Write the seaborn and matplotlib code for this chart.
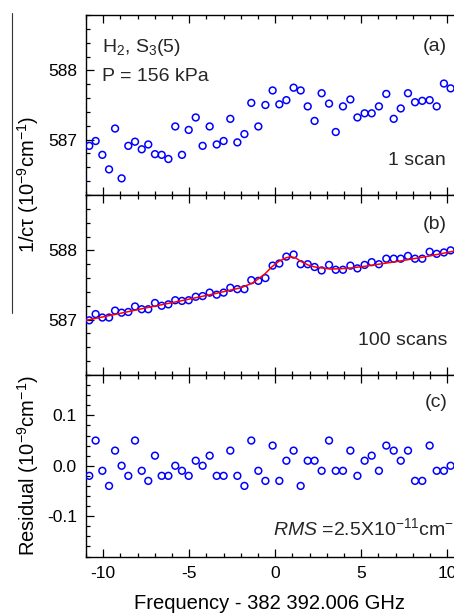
import matplotlib
matplotlib.use("Agg")
import matplotlib.pyplot as plt
from matplotlib.ticker import MultipleLocator
from matplotlib.lines import Line2D
import pandas as pd
import seaborn as sns

# ---------------- data ----------------
freq = [-10.81, -10.44, -10.05, -9.66, -9.31, -8.93, -8.54, -8.15, -7.76, -7.38,
        -6.99, -6.60, -6.21, -5.81, -5.42, -5.03, -4.62, -4.22, -3.81, -3.40,
        -3.00, -2.61, -2.20, -1.79, -1.39, -0.98, -0.57, -0.15, 0.24, 0.65,
        1.07, 1.48, 1.89, 2.29, 2.70, 3.13, 3.52, 3.94, 4.37, 4.78,
        5.20, 5.61, 6.03, 6.46, 6.89, 7.30, 7.72, 8.13, 8.55, 8.98,
        9.39, 9.81, 10.20]

one_scan = [586.91, 586.98, 586.78, 586.57, 587.16, 586.44, 586.91, 586.97, 586.86, 586.93,
            586.79, 586.78, 586.72, 587.19, 586.78, 587.14, 587.32, 586.91, 587.19, 586.93,
            586.98, 587.30, 586.96, 587.08, 587.53, 587.19, 587.50, 587.71, 587.51, 587.57,
            587.75, 587.71, 587.48, 587.27, 587.67, 587.52, 587.11, 587.48, 587.58, 587.32,
            587.38, 587.38, 587.48, 587.66, 587.30, 587.45, 587.67, 587.54, 587.56, 587.57,
            587.48, 587.81, 587.74]
# one extra point of the single scan just left of the plotted range
edge_freq = [-11.21]
edge_one_scan = [586.40]

hundred_scans = [586.99, 587.08, 587.03, 587.03, 587.13, 587.10, 587.11, 587.19, 587.15, 587.15,
                 587.24, 587.20, 587.22, 587.28, 587.27, 587.28, 587.33, 587.34, 587.39, 587.36,
                 587.39, 587.46, 587.44, 587.44, 587.57, 587.56, 587.60, 587.78, 587.81, 587.91,
                 587.94, 587.80, 587.80, 587.76, 587.71, 587.79, 587.72, 587.72, 587.78, 587.74,
                 587.79, 587.83, 587.80, 587.88, 587.88, 587.88, 587.92, 587.88, 587.88, 587.98,
                 587.95, 587.97, 588.00]

fit_freq = [-11.0, -9.4, -7.5, -5.5, -3.6, -2.0, -1.3, -0.6, -0.2, 0.2, 0.6, 0.9,
            1.2, 1.5, 1.9, 2.3, 3.2, 4.2, 5.2, 7.1, 9.0, 11.0]
fit_vals = [586.99, 587.07, 587.17, 587.27, 587.37, 587.46, 587.53, 587.66, 587.76, 587.84,
            587.89, 587.91, 587.89, 587.84, 587.79, 587.76, 587.73, 587.74, 587.77, 587.84,
            587.92, 588.02]

residual = [-0.02, 0.05, -0.01, -0.04, 0.03, 0.00, -0.02, 0.05, -0.01, -0.03,
            0.02, -0.02, -0.02, 0.00, -0.01, -0.02, 0.01, 0.00, 0.02, -0.02,
            -0.02, 0.03, -0.02, -0.04, 0.05, -0.01, -0.03, 0.04, -0.03, 0.01,
            0.03, -0.04, 0.01, 0.01, -0.01, 0.05, -0.01, -0.01, 0.03, -0.02,
            0.01, 0.02, -0.01, 0.04, 0.03, 0.01, 0.03, -0.03, -0.03, 0.04,
            -0.01, -0.01, 0.00]

xticks = [-10, -5, 0, 5, 10]
yticks_ab = [587, 588]
yticks_c = [-0.1, 0.0, 0.1]

# ---------------- style ----------------
sns.set_theme(style="ticks")
plt.rcParams["font.family"] = ["Liberation Sans", "DejaVu Sans"]
plt.rcParams["mathtext.fontset"] = "custom"
plt.rcParams["mathtext.rm"] = "Liberation Sans"
plt.rcParams["mathtext.it"] = "Liberation Sans:italic"
plt.rcParams["mathtext.default"] = "regular"
plt.rcParams["axes.unicode_minus"] = False

BLUE = "#0000ff"
RED = "#ff0000"

W_PX, H_PX = 454, 613
fig = plt.figure(figsize=(W_PX / 100, H_PX / 100), dpi=100)
L = 86 / W_PX
WID = 378.4 / W_PX


def pos(top, bottom):
    return [L, (H_PX - bottom) / H_PX, WID, (bottom - top) / H_PX]


axa = fig.add_axes(pos(15, 195))
axb = fig.add_axes(pos(195, 375))
axc = fig.add_axes(pos(375, 556.5))

df_a = pd.DataFrame({"f": edge_freq + freq, "v": edge_one_scan + one_scan})
df_b = pd.DataFrame({"f": freq, "v": hundred_scans})
df_fit = pd.DataFrame({"f": fit_freq, "v": fit_vals})
df_c = pd.DataFrame({"f": freq, "v": residual})

sc_kw = dict(marker="o", s=24, facecolor="none", edgecolor=BLUE, linewidth=1.1, zorder=3)
sns.scatterplot(data=df_a, x="f", y="v", ax=axa, **sc_kw)
sns.scatterplot(data=df_b, x="f", y="v", ax=axb, **sc_kw)
sns.lineplot(data=df_fit, x="f", y="v", ax=axb, color=RED, linewidth=1.1, zorder=4)
sns.scatterplot(data=df_c, x="f", y="v", ax=axc, **sc_kw)

for ax in (axa, axb, axc):
    ax.set_xlim(-11, 11)
    ax.set_xticks(xticks)
    ax.xaxis.set_minor_locator(MultipleLocator(1))
    ax.tick_params(which="both", direction="in", top=True, right=True,
                   bottom=True, left=True, color="black", width=0.9,
                   labelcolor="black", labelsize=12.5)
    ax.tick_params(which="major", length=5.5)
    ax.tick_params(which="minor", length=3)
    ax.tick_params(axis="y", pad=6.5)
    ax.tick_params(axis="x", pad=7)
    for s in ax.spines.values():
        s.set_color("black")
        s.set_linewidth(1.0)
    ax.set_xlabel("")
    ax.set_ylabel("")

for ax in (axa, axb):
    ax.set_ylim(586.2, 588.8)
    ax.set_yticks(yticks_ab)
    ax.yaxis.set_minor_locator(MultipleLocator(0.2))
    ax.tick_params(axis="x", labelbottom=False)

axc.set_ylim(-0.18, 0.18)
axc.set_yticks(yticks_c)
axc.set_yticklabels(["-0.1", "0.0", "0.1"])
axc.yaxis.set_minor_locator(MultipleLocator(0.02))

# ---------------- annotations ----------------
FS = 14
axa.text(-10.05, 588.27, "H$_2$, S$_3$(5)", fontsize=FS, ha="left", va="baseline")
axa.text(-10.05, 587.85, "P = 156 kPa", fontsize=FS, ha="left", va="baseline")
axa.text(10.0, 588.28, "(a)", fontsize=FS, ha="right", va="baseline")
axa.text(9.9, 586.63, "1 scan", fontsize=FS, ha="right", va="baseline")

axb.text(10.0, 588.31, "(b)", fontsize=FS, ha="right", va="baseline")
axb.text(10.0, 586.63, "100 scans", fontsize=FS, ha="right", va="baseline")

axc.text(10.0, 0.116, "(c)", fontsize=FS, ha="right", va="baseline")
axc.text(-0.11, -0.137, "$\\mathit{RMS}$ =2.5X10$^{-11}$cm$^{-1}$", fontsize=FS,
         ha="left", va="baseline")

# axis labels
axc.set_xlabel("Frequency - 382 392.006 GHz", fontsize=14.5, color="black")
axc.xaxis.set_label_coords(0.485, (556.5 - 594) / 181.5)

axc.set_ylabel("Residual (10$^{-9}$cm$^{-1}$)", fontsize=14.5, color="black")
axc.yaxis.set_label_coords((41 - 86) / 378.4, 0.5)

fig.text(41 / W_PX, 1 - 184 / H_PX, "1/cτ (10$^{-9}$cm$^{-1}$)", fontsize=14.5,
         rotation=90, rotation_mode="anchor", ha="center", va="bottom", color="black")

fig.add_artist(Line2D([12 / W_PX, 12 / W_PX], [1 - 13 / H_PX, 1 - 313 / H_PX],
                      color="#333333", linewidth=0.8))

fig.savefig("out.png", dpi=100)
